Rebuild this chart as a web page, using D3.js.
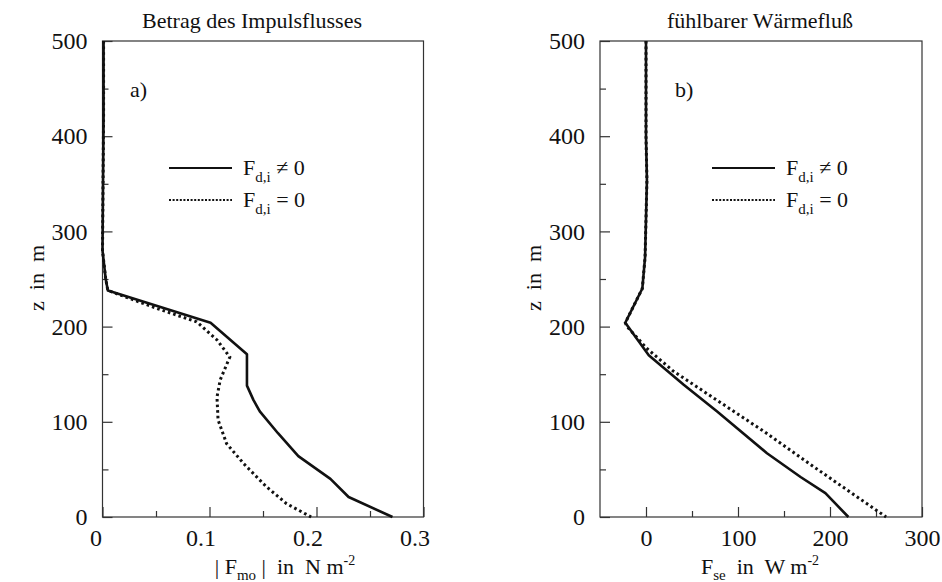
<!DOCTYPE html>
<html>
<head>
<meta charset="utf-8">
<script src="https://cdn.jsdelivr.net/npm/d3@7"></script>
<style>
  body { margin: 0; background: #fff; }
  svg text { font-family: "Liberation Serif", "Times New Roman", serif; fill: #111; white-space: pre; }
</style>
</head>
<body>
<svg width="942" height="582"></svg>
<script>
// heights of the model levels (m) and fluxes
// panel a: |F_mo| in N m^-2
const zA1 = [500, 420, 280, 250, 238, 204, 171, 138, 123, 111, 88, 64, 40, 21, 0];
const fA1 = [0.001, 0.001, 0, 0.003, 0.005, 0.101, 0.135, 0.135, 0.141, 0.147, 0.164, 0.183, 0.213, 0.230, 0.271];
const zA2 = [500, 420, 280, 250, 238, 219, 205, 186, 168, 144, 126, 102, 77, 56, 32, 14, 0];
const fA2 = [0.001, 0.001, 0, 0.003, 0.005, 0.051, 0.088, 0.107, 0.119, 0.110, 0.107, 0.108, 0.116, 0.132, 0.153, 0.172, 0.195];

// panel b: F_se in W m^-2
const zB1 = [500, 400, 354, 273, 240, 204, 170, 139, 111, 67, 42, 25, 0];
const fB1 = [0, 0, 1, -1, -4, -22.5, 3, 41, 77, 131.5, 168, 195, 220];
const zB2 = [500, 400, 354, 273, 240, 204, 200, 177, 153, 125, 90, 53, 21, 0];
const fB2 = [0, 0, 1, -1, -4, -22.5, -20.6, 1, 30, 73.5, 128, 182, 229.6, 261];

const zMajor = [0, 100, 200, 300, 400, 500];
const zMinor = [50, 150, 250, 350, 450];
const xMajorA = [0, 0.1, 0.2, 0.3];
const xMinorA = [0.05, 0.15, 0.25];
const xMajorB = [0, 100, 200, 300];
const xMinorB = [50, 150, 250];

const serif = "Liberation Serif, Times New Roman, serif";
const svg = d3.select("svg");
const top0 = 41, bottom0 = 517;

function drawPanel(p) {
  const x = d3.scaleLinear().domain(p.xDomain).range(p.xRange);
  const y = d3.scaleLinear().domain([0, 500]).range([bottom0, top0]);
  const g = svg.append("g");

  // frame
  g.append("rect")
    .attr("x", p.xRange[0]).attr("y", top0)
    .attr("width", p.xRange[1] - p.xRange[0]).attr("height", bottom0 - top0)
    .attr("fill", "none").attr("stroke", "#333").attr("stroke-width", 1.2);

  // y axis, ticks pointing inwards
  g.append("g").attr("transform", `translate(${p.xRange[0]},0)`)
    .call(d3.axisLeft(y).tickValues(zMajor).tickSize(-10).tickPadding(15));
  g.append("g").attr("transform", `translate(${p.xRange[0]},0)`)
    .call(d3.axisLeft(y).tickValues(zMinor).tickSize(-6).tickFormat(""));

  // x axis
  const xa = g.append("g").attr("transform", `translate(0,${bottom0})`)
    .call(d3.axisBottom(x).tickValues(p.xMajor).tickSize(-10).tickPadding(12).tickFormat(p.fmt));
  g.append("g").attr("transform", `translate(0,${bottom0})`)
    .call(d3.axisBottom(x).tickValues(p.xMinor).tickSize(-6).tickFormat(""));

  g.selectAll(".domain").remove();
  g.selectAll(".tick line").attr("stroke", "#333").attr("stroke-width", 1.2);
  g.selectAll(".tick").attr("font-family", serif);
  g.selectAll(".tick text").attr("font-size", 24).attr("font-family", serif).attr("fill", "#111");
  if (p.shiftLabels) {
    xa.selectAll(".tick text").attr("text-anchor", "end").attr("dx", d => d === 0 ? -1 : 6);
  }

  // profiles
  const line = d3.line().x(d => x(d[0])).y(d => y(d[1]));
  g.append("path").datum(d3.zip(p.f2, p.z2)).attr("d", line)
    .attr("fill", "none").attr("stroke", "#111").attr("stroke-width", 3)
    .attr("stroke-dasharray", "2.6,3");
  g.append("path").datum(d3.zip(p.f1, p.z1)).attr("d", line)
    .attr("fill", "none").attr("stroke", "#111").attr("stroke-width", 2.6)
    .attr("stroke-linejoin", "round");

  // title
  g.append("text").attr("x", p.titleX).attr("y", 28).attr("text-anchor", "middle")
    .attr("font-size", 22).text(p.title);

  // panel letter
  g.append("text").attr("x", p.letterX).attr("y", 97).attr("font-size", 22).text(p.letter);

  // legend
  const lx = p.legendX;
  [[168, null, "≠"], [200, "2,1.6", "="]].forEach(([ly, dash, sym]) => {
    g.append("line").attr("x1", lx).attr("x2", lx + 63).attr("y1", ly).attr("y2", ly)
      .attr("stroke", "#111").attr("stroke-width", dash ? 1.8 : 2)
      .attr("stroke-dasharray", dash);
    const t = g.append("text").attr("x", lx + 74).attr("y", ly + 7).attr("font-size", 22);
    t.append("tspan").text("F");
    t.append("tspan").attr("font-size", 15).attr("dy", 7).text("d,i");
    t.append("tspan").attr("dy", -7).text(" " + sym + " 0");
  });

  // x axis label
  const xl = g.append("text").attr("x", p.labelX).attr("y", 574).attr("text-anchor", "middle")
    .attr("font-size", 22);
  p.label(xl);

  // z label
  svg.append("text").attr("transform", `translate(${p.xRange[0] - 59},278) rotate(-90)`)
    .attr("text-anchor", "middle").attr("font-size", 22).text("z  in  m");
}

drawPanel({
  xDomain: [0, 0.3], xRange: [102.5, 423.5],
  xMajor: xMajorA, xMinor: xMinorA, fmt: d => d === 0 ? "0" : d3.format(".1f")(d),
  shiftLabels: true,
  z1: zA1, f1: fA1, z2: zA2, f2: fA2,
  title: "Betrag des Impulsflusses", titleX: 252,
  letter: "a)", letterX: 130, legendX: 169, labelX: 285,
  label: t => {
    t.append("tspan").text("| F");
    t.append("tspan").attr("font-size", 15).attr("dy", 6).text("mo");
    t.append("tspan").attr("dy", -6).text(" |  in  N m");
    t.append("tspan").attr("font-size", 14).attr("dy", -9).text("-2");
  }
});

drawPanel({
  xDomain: [-50, 300], xRange: [600, 922],
  xMajor: xMajorB, xMinor: xMinorB, fmt: d3.format("d"),
  shiftLabels: false,
  z1: zB1, f1: fB1, z2: zB2, f2: fB2,
  title: "fühlbarer Wärmefluß", titleX: 760,
  letter: "b)", letterX: 675, legendX: 712, labelX: 760,
  label: t => {
    t.append("tspan").text("F");
    t.append("tspan").attr("font-size", 15).attr("dy", 6).text("se");
    t.append("tspan").attr("dy", -6).text("  in  W m");
    t.append("tspan").attr("font-size", 14).attr("dy", -9).text("-2");
  }
});
</script>
</body>
</html>
